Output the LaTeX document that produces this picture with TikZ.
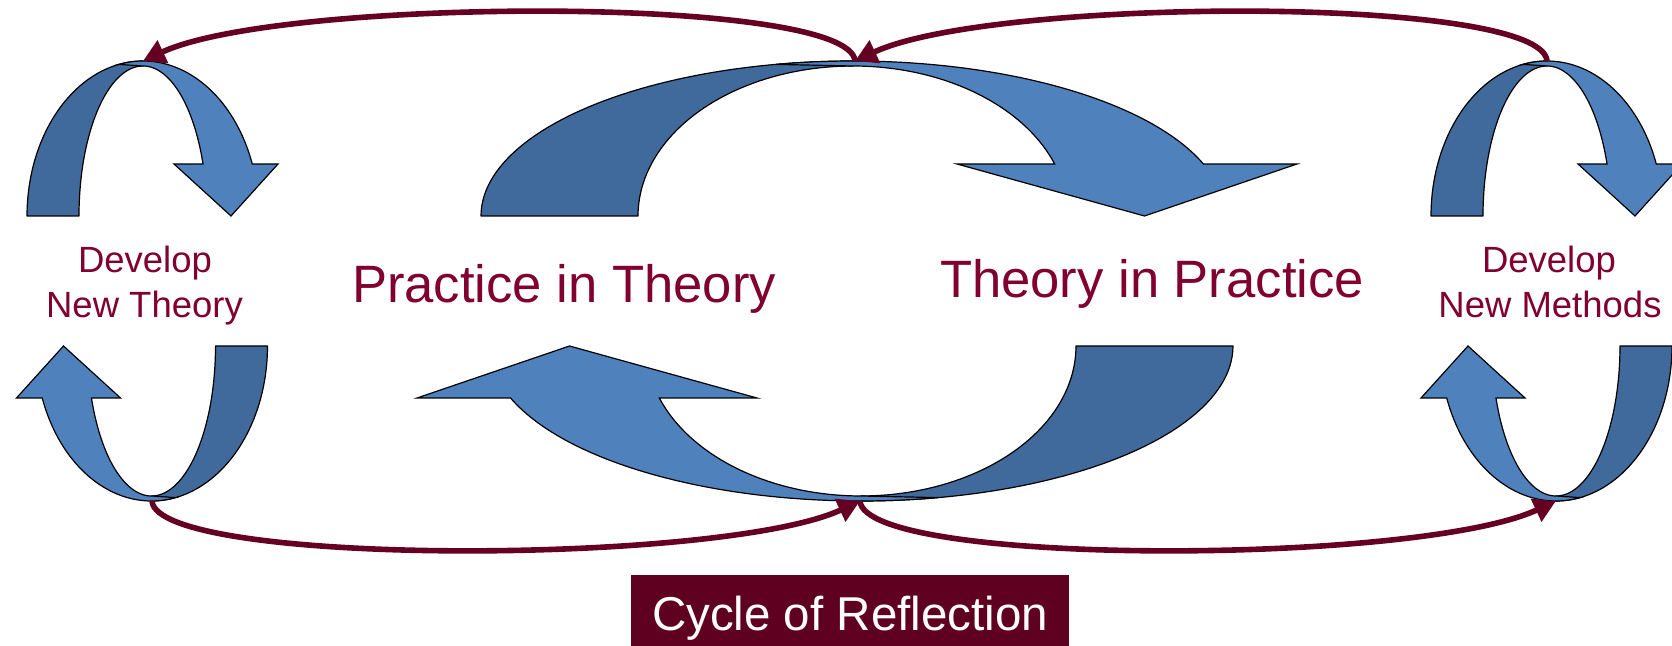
\documentclass[tikz,border=0pt]{standalone}
\usepackage{fontspec}
\setmainfont{Liberation Sans}
\usetikzlibrary{arrows.meta}
\definecolor{lightblue}{HTML}{4F81BD}
\definecolor{darkblue}{HTML}{416A9C}
\definecolor{mytext}{HTML}{800030}
\definecolor{myconn}{HTML}{650022}
\definecolor{boxcol}{HTML}{600020}
\tikzset{
  darkband/.style={fill=darkblue, draw=black, line width=0.6pt, line join=round},
  lightband/.style={fill=lightblue, draw=black, line width=0.6pt, line join=miter},
  conn/.style={draw=myconn, line width=2.8pt, -{Triangle[length=11pt,width=12pt]}},
  smalllbl/.style={text=mytext, font=\fontsize{18.25pt}{22pt}\selectfont, inner sep=0pt, anchor=base},
  biglbl/.style={text=mytext, font=\fontsize{26.3pt}{30pt}\selectfont, inner sep=0pt, anchor=base},
  cyclebox/.style={fill=boxcol, text=white, font=\fontsize{23.75pt}{28pt}\selectfont,
    minimum width=219pt, minimum height=35.5pt, inner sep=0pt, text height=20.2pt, text depth=0pt}
}
% #1 outer x radius, #2 inner x radius, #3 head base left, #4 head base right, #5 head tip
\newcommand{\ribbonarrow}[5]{%
  \path[darkband] plot[domain=180:90, samples=50, variable=\t] ({#1*cos(\t)},{155*sin(\t)})
    -- (0,150) -- plot[domain=90:180, samples=50, variable=\t] ({#2*cos(\t)},{150*sin(\t)}) -- cycle;
  \path[lightband] plot[domain=102:19.6, samples=60, variable=\t] ({#1*cos(\t)},{155*sin(\t)})
    -- (#4,52) -- (#5,0) -- (#3,52)
    -- plot[domain=20.28:90, samples=50, variable=\t] ({#2*cos(\t)},{150*sin(\t)}) -- cycle;
}
\begin{document}
\begin{tikzpicture}[x=0.5pt, y=-0.5pt]
\useasboundingbox (0,0) rectangle (1672,646);
\clip (0,0) rectangle (1672,646);
% top arrows
\begin{scope}[shift={(143,216)}, yscale=-1]\ribbonarrow{116}{64}{31}{135}{88}\end{scope}
\begin{scope}[shift={(853,216)}, yscale=-1]\ribbonarrow{372}{215}{104}{444}{291.5}\end{scope}
\begin{scope}[shift={(1547,216)}, yscale=-1]\ribbonarrow{116}{64}{31}{135}{88}\end{scope}
% bottom arrows
\begin{scope}[shift={(151.5,346)}, xscale=-1]\ribbonarrow{116}{64}{31}{135}{88}\end{scope}
\begin{scope}[shift={(861,346)}, xscale=-1]\ribbonarrow{372}{215}{104}{444}{291.5}\end{scope}
\begin{scope}[shift={(1556,346)}, xscale=-1]\ribbonarrow{116}{64}{31}{135}{88}\end{scope}
% apex coordinates
\coordinate (aTL) at (143,61);
\coordinate (aTC) at (855,61);
\coordinate (aTR) at (1547,61);
\coordinate (aBL) at (152,501);
\coordinate (aBC) at (860,501);
\coordinate (aBR) at (1556,501);
% connectors
\draw[conn] (aTC) .. controls +(-5,-66) and +(137,-64) .. (aTL);
\draw[conn] (aTR) .. controls +(-5,-66) and +(137,-64) .. (aTC);
\draw[conn] (aBL) .. controls +(5,66) and +(-137,64) .. (aBC);
\draw[conn] (aBC) .. controls +(5,66) and +(-137,64) .. (aBR);
% labels
\node[smalllbl] (dl1) at (145,273) {Develop};
\node[smalllbl] (dl2) at (144.5,318) {New Theory};
\node[smalllbl] (dr1) at (1549,273) {Develop};
\node[smalllbl] (dr2) at (1550,318) {New Methods};
\node[biglbl] (pit) at (564,303) {Practice in Theory};
\node[biglbl] (tip) at (1152,298) {Theory in Practice};
\node[cyclebox] (cyc) at (850,610.5) {Cycle of Reflection};
\end{tikzpicture}
\end{document}
